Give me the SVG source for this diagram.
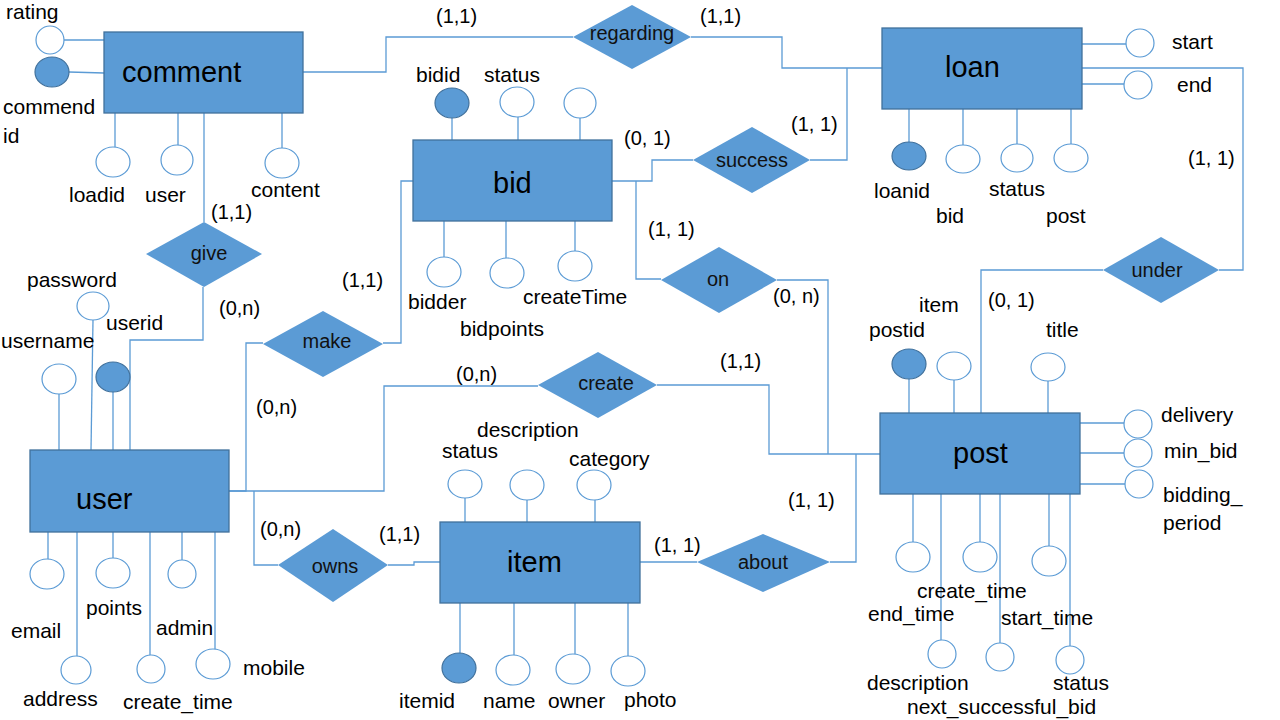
<svg xmlns="http://www.w3.org/2000/svg" width="1280" height="720" viewBox="0 0 1280 720">
<style>
.ent{fill:#5b9bd5;stroke:#41719c;stroke-width:1.3}
.rel{fill:#5b9bd5;stroke:none}
.att{fill:#ffffff;stroke:#5b9bd5;stroke-width:1.2}
.key{fill:#5b9bd5;stroke:#41719c;stroke-width:1.2}
.ln{fill:none;stroke:#5b9bd5;stroke-width:1.3}
.et{font-family:"Liberation Sans",Arial,sans-serif;font-size:29px;fill:#000}
.rt{font-family:"Liberation Sans",Arial,sans-serif;font-size:20px;fill:#111}
.at{font-family:"Liberation Sans",Arial,sans-serif;font-size:21px;fill:#000}
.ct{font-family:"Liberation Sans",Arial,sans-serif;font-size:20px;fill:#000}
</style>
<rect width="1280" height="720" fill="#ffffff"/>

<g id="connectors" class="ln">
<polyline points="303,72 386,72 386,37 573,37"/>
<polyline points="691,37 782,37 782,68 882,68"/>
<polyline points="810,160 847,160 847,68"/>
<polyline points="612,181 652,181 652,160 693,160"/>
<polyline points="636,181 636,279 661,279"/>
<polyline points="777,280 828,280 828,454"/>
<polyline points="657,385 769,385 769,454 880,454"/>
<polyline points="830,562 856,562 856,454"/>
<polyline points="1082,68 1243,68 1243,270 1219,270"/>
<polyline points="1103,270 981,270 981,413"/>
<polyline points="204,113 204,222"/>
<polyline points="203,287 203,340 130,340 130,450"/>
<polyline points="413,181 401,181 401,343 383,343"/>
<polyline points="263,343 246,343 246,491 229,491"/>
<polyline points="229,491 384,491 384,386 538,386"/>
<polyline points="254,491 254,565 278,565"/>
<polyline points="388,565 414,565 414,562 440,562"/>
<polyline points="640,562 697,562"/>
</g>

<g id="cardinalities" class="ct">
<text x="436" y="23">(1,1)</text>
<text x="700" y="23">(1,1)</text>
<text x="624" y="145">(0, 1)</text>
<text x="791" y="131">(1, 1)</text>
<text x="648" y="236">(1, 1)</text>
<text x="773" y="303">(0, n)</text>
<text x="1188" y="165">(1, 1)</text>
<text x="988" y="307">(0, 1)</text>
<text x="211" y="219">(1,1)</text>
<text x="219" y="315">(0,n)</text>
<text x="342" y="287">(1,1)</text>
<text x="256" y="414">(0,n)</text>
<text x="456" y="381">(0,n)</text>
<text x="720" y="368">(1,1)</text>
<text x="260" y="536">(0,n)</text>
<text x="379" y="541">(1,1)</text>
<text x="788" y="507">(1, 1)</text>
<text x="654" y="552">(1, 1)</text>
</g>

<g id="comment">
<line class="ln" x1="64" y1="40" x2="104" y2="40"/>
<line class="ln" x1="69" y1="72" x2="104" y2="73"/>
<line class="ln" x1="115" y1="113" x2="115" y2="147"/>
<line class="ln" x1="178" y1="113" x2="178" y2="146"/>
<line class="ln" x1="282" y1="113" x2="282" y2="148"/>
<rect class="ent" x="104" y="32" width="199" height="81"/>
<text class="et" x="122" y="82">comment</text>
<ellipse class="att" cx="50" cy="40" rx="14" ry="14"/>
<ellipse class="key" cx="52" cy="72" rx="17" ry="15"/>
<ellipse class="att" cx="113" cy="162" rx="17" ry="15"/>
<ellipse class="att" cx="177" cy="160" rx="16" ry="15"/>
<ellipse class="att" cx="282" cy="163" rx="17" ry="15"/>
<text class="at" x="6" y="19">rating</text>
<text class="at" x="3" y="114">commend</text>
<text class="at" x="3" y="143">id</text>
<text class="at" x="69" y="202">loadid</text>
<text class="at" x="145" y="202">user</text>
<text class="at" x="251" y="197">content</text>
</g>

<g id="loan">
<line class="ln" x1="1082" y1="44" x2="1126" y2="44"/>
<line class="ln" x1="1082" y1="84" x2="1124" y2="84"/>
<line class="ln" x1="909" y1="109" x2="909" y2="142"/>
<line class="ln" x1="963" y1="109" x2="963" y2="145"/>
<line class="ln" x1="1017" y1="109" x2="1017" y2="144"/>
<line class="ln" x1="1071" y1="109" x2="1071" y2="144"/>
<rect class="ent" x="882" y="28" width="200" height="81"/>
<text class="et" x="945" y="77">loan</text>
<ellipse class="att" cx="1140" cy="43" rx="14" ry="14"/>
<ellipse class="att" cx="1138" cy="85" rx="14" ry="14"/>
<ellipse class="key" cx="909" cy="156" rx="17" ry="14"/>
<ellipse class="att" cx="963" cy="159" rx="17" ry="14"/>
<ellipse class="att" cx="1017" cy="158" rx="16" ry="14"/>
<ellipse class="att" cx="1071" cy="158" rx="17" ry="14"/>
<text class="at" x="1172" y="49">start</text>
<text class="at" x="1177" y="92">end</text>
<text class="at" x="874" y="198">loanid</text>
<text class="at" x="936" y="223">bid</text>
<text class="at" x="989" y="196">status</text>
<text class="at" x="1046" y="223">post</text>
</g>

<g id="bid">
<line class="ln" x1="452" y1="118" x2="452" y2="140"/>
<line class="ln" x1="518" y1="117" x2="518" y2="140"/>
<line class="ln" x1="580" y1="118" x2="580" y2="140"/>
<line class="ln" x1="444" y1="221" x2="444" y2="257"/>
<line class="ln" x1="506" y1="221" x2="506" y2="258"/>
<line class="ln" x1="575" y1="221" x2="575" y2="251"/>
<rect class="ent" x="413" y="140" width="199" height="81"/>
<text class="et" x="493" y="193">bid</text>
<ellipse class="key" cx="452" cy="103" rx="17" ry="15"/>
<ellipse class="att" cx="517" cy="102" rx="17" ry="15"/>
<ellipse class="att" cx="580" cy="103" rx="16" ry="15"/>
<ellipse class="att" cx="444" cy="272" rx="17" ry="15"/>
<ellipse class="att" cx="507" cy="273" rx="17" ry="15"/>
<ellipse class="att" cx="575" cy="266" rx="17" ry="15"/>
<text class="at" x="416" y="82">bidid</text>
<text class="at" x="484" y="82">status</text>
<text class="at" x="408" y="309">bidder</text>
<text class="at" x="460" y="336">bidpoints</text>
<text class="at" x="523" y="304">createTime</text>
</g>

<g id="user">
<line class="ln" x1="59" y1="394" x2="59" y2="450"/>
<line class="ln" x1="93" y1="320" x2="91" y2="450"/>
<line class="ln" x1="113" y1="392" x2="113" y2="450"/>
<line class="ln" x1="48" y1="532" x2="48" y2="560"/>
<line class="ln" x1="113" y1="532" x2="113" y2="559"/>
<line class="ln" x1="182" y1="532" x2="182" y2="560"/>
<line class="ln" x1="77" y1="532" x2="77" y2="656"/>
<line class="ln" x1="150" y1="532" x2="150" y2="655"/>
<line class="ln" x1="215" y1="532" x2="215" y2="650"/>
<rect class="ent" x="30" y="450" width="199" height="82"/>
<text class="et" x="76" y="509">user</text>
<ellipse class="att" cx="93" cy="306" rx="16" ry="14"/>
<ellipse class="att" cx="59" cy="379" rx="17" ry="15"/>
<ellipse class="key" cx="113" cy="377" rx="17" ry="15"/>
<ellipse class="att" cx="47" cy="574" rx="17" ry="15"/>
<ellipse class="att" cx="113" cy="573" rx="17" ry="15"/>
<ellipse class="att" cx="182" cy="574" rx="14" ry="14"/>
<ellipse class="att" cx="76" cy="670" rx="15" ry="14"/>
<ellipse class="att" cx="151" cy="669" rx="14" ry="14"/>
<ellipse class="att" cx="213" cy="664" rx="17" ry="15"/>
<text class="at" x="27" y="287">password</text>
<text class="at" x="106" y="330">userid</text>
<text class="at" x="1" y="348">username</text>
<text class="at" x="11" y="638">email</text>
<text class="at" x="86" y="615">points</text>
<text class="at" x="156" y="635">admin</text>
<text class="at" x="243" y="675">mobile</text>
<text class="at" x="23" y="706">address</text>
<text class="at" x="123" y="709">create_time</text>
</g>

<g id="item">
<line class="ln" x1="465" y1="498" x2="465" y2="522"/>
<line class="ln" x1="527" y1="500" x2="527" y2="522"/>
<line class="ln" x1="595" y1="500" x2="595" y2="522"/>
<line class="ln" x1="460" y1="603" x2="460" y2="653"/>
<line class="ln" x1="514" y1="603" x2="514" y2="655"/>
<line class="ln" x1="575" y1="603" x2="575" y2="654"/>
<line class="ln" x1="628" y1="603" x2="628" y2="656"/>
<rect class="ent" x="440" y="522" width="200" height="81"/>
<text class="et" x="507" y="572">item</text>
<ellipse class="att" cx="465" cy="484" rx="17" ry="14"/>
<ellipse class="att" cx="527" cy="485" rx="17" ry="15"/>
<ellipse class="att" cx="594" cy="485" rx="17" ry="15"/>
<ellipse class="key" cx="459" cy="668" rx="17" ry="15"/>
<ellipse class="att" cx="513" cy="670" rx="17" ry="15"/>
<ellipse class="att" cx="573" cy="669" rx="17" ry="15"/>
<ellipse class="att" cx="628" cy="671" rx="17" ry="15"/>
<text class="at" x="477" y="437">description</text>
<text class="at" x="442" y="458">status</text>
<text class="at" x="569" y="466">category</text>
<text class="at" x="399" y="708">itemid</text>
<text class="at" x="483" y="708">name</text>
<text class="at" x="548" y="708">owner</text>
<text class="at" x="624" y="707">photo</text>
</g>

<g id="post">
<line class="ln" x1="909" y1="379" x2="909" y2="413"/>
<line class="ln" x1="954" y1="380" x2="954" y2="413"/>
<line class="ln" x1="1048" y1="381" x2="1048" y2="413"/>
<line class="ln" x1="1080" y1="423" x2="1124" y2="423"/>
<line class="ln" x1="1080" y1="453" x2="1124" y2="453"/>
<line class="ln" x1="1080" y1="484" x2="1125" y2="484"/>
<line class="ln" x1="913" y1="494" x2="913" y2="542"/>
<line class="ln" x1="980" y1="494" x2="980" y2="542"/>
<line class="ln" x1="1049" y1="494" x2="1049" y2="547"/>
<line class="ln" x1="941" y1="494" x2="941" y2="640"/>
<line class="ln" x1="1000" y1="494" x2="1000" y2="643"/>
<line class="ln" x1="1070" y1="494" x2="1070" y2="646"/>
<rect class="ent" x="880" y="413" width="200" height="81"/>
<text class="et" x="953" y="463">post</text>
<ellipse class="key" cx="909" cy="364" rx="17" ry="15"/>
<ellipse class="att" cx="954" cy="366" rx="17" ry="14"/>
<ellipse class="att" cx="1048" cy="367" rx="17" ry="14"/>
<ellipse class="att" cx="1138" cy="424" rx="14" ry="14"/>
<ellipse class="att" cx="1138" cy="453" rx="14" ry="14"/>
<ellipse class="att" cx="1139" cy="484" rx="14" ry="14"/>
<ellipse class="att" cx="913" cy="557" rx="17" ry="15"/>
<ellipse class="att" cx="980" cy="557" rx="17" ry="15"/>
<ellipse class="att" cx="1049" cy="561" rx="17" ry="15"/>
<ellipse class="att" cx="942" cy="654" rx="14" ry="14"/>
<ellipse class="att" cx="1000" cy="657" rx="14" ry="14"/>
<ellipse class="att" cx="1070" cy="660" rx="14" ry="14"/>
<text class="at" x="919" y="312">item</text>
<text class="at" x="869" y="337">postid</text>
<text class="at" x="1046" y="337">title</text>
<text class="at" x="1161" y="422">delivery</text>
<text class="at" x="1164" y="458">min_bid</text>
<text class="at" x="1163" y="502">bidding_</text>
<text class="at" x="1163" y="530">period</text>
<text class="at" x="917" y="598">create_time</text>
<text class="at" x="868" y="621">end_time</text>
<text class="at" x="1001" y="625">start_time</text>
<text class="at" x="867" y="690">description</text>
<text class="at" x="1053" y="690">status</text>
<text class="at" x="907" y="714">next_successful_bid</text>
</g>

<g id="regarding">
<polygon class="rel" points="573,37 632,5 691,37 632,69"/>
<text class="rt" x="632" y="40" text-anchor="middle">regarding</text>
</g>
<g id="success">
<polygon class="rel" points="693,160 752,127 810,160 752,193"/>
<text class="rt" x="752" y="167" text-anchor="middle">success</text>
</g>
<g id="on">
<polygon class="rel" points="661,280 719,247 777,280 719,313"/>
<text class="rt" x="718" y="286" text-anchor="middle">on</text>
</g>
<g id="under">
<polygon class="rel" points="1103,270 1161,237 1219,270 1161,303"/>
<text class="rt" x="1157" y="277" text-anchor="middle">under</text>
</g>
<g id="give">
<polygon class="rel" points="146,254 204,222 262,254 204,287"/>
<text class="rt" x="209" y="260" text-anchor="middle">give</text>
</g>
<g id="make">
<polygon class="rel" points="263,344 323,311 383,344 323,377"/>
<text class="rt" x="327" y="348" text-anchor="middle">make</text>
</g>
<g id="create">
<polygon class="rel" points="538,385 598,352 657,385 598,418"/>
<text class="rt" x="606" y="390" text-anchor="middle">create</text>
</g>
<g id="owns">
<polygon class="rel" points="278,565 333,529 388,565 333,602"/>
<text class="rt" x="335" y="573" text-anchor="middle">owns</text>
</g>
<g id="about">
<polygon class="rel" points="697,562 763,534 830,562 763,592"/>
<text class="rt" x="763" y="569" text-anchor="middle">about</text>
</g>
</svg>
